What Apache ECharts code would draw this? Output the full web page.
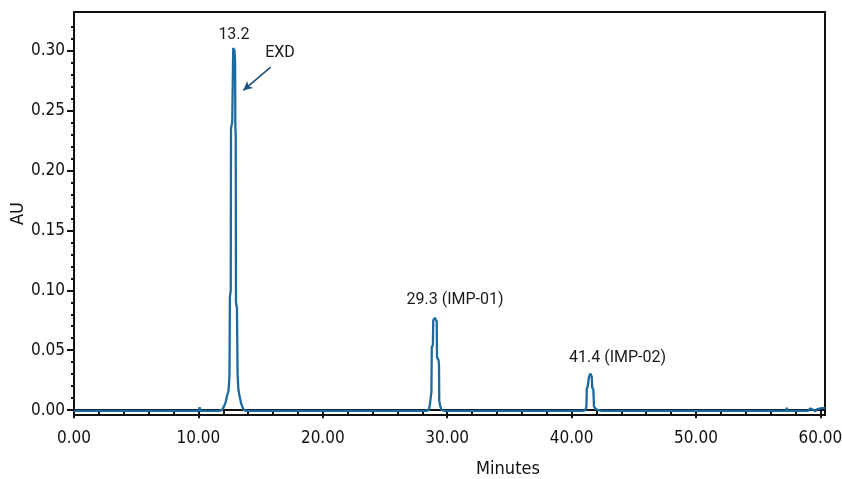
<!DOCTYPE html>
<html>
<head>
<meta charset="utf-8">
<script src="https://cdn.jsdelivr.net/npm/echarts@6/dist/echarts.min.js"></script>
<style>html,body{margin:0;padding:0;background:#fff;}#c{width:842px;height:479px;}</style>
</head>
<body>
<div id="c"></div>
<script>
// Retention time (minutes) and absorbance (AU)
const timeMin = [0, 10.05, 10.1, 10.15, 11.6, 11.9, 12.05, 12.2, 12.3, 12.42, 12.47, 12.5, 12.53, 12.6, 12.62, 12.72, 12.8, 12.9, 12.95, 12.97, 13.0, 13.02, 13.1, 13.15, 13.21, 13.3, 13.45, 13.6, 13.8,
  28.3, 28.5, 28.6, 28.67, 28.73, 28.76, 28.85, 28.88, 29.0, 29.08, 29.13, 29.16, 29.18, 29.3, 29.34, 29.36, 29.45, 29.56, 29.8,
  40.9, 41.1, 41.19, 41.22, 41.3, 41.38, 41.4, 41.5, 41.55, 41.62, 41.66, 41.75, 41.8, 41.95, 42.15, 42.4,
  57.25, 57.3, 57.35, 59.0, 59.2, 59.4, 59.6, 59.75, 59.9, 60.1, 60.37];
const absorbance = [-0.0006, -0.0006, 0.0025, -0.0006, -0.0006, 0.000, 0.003, 0.007, 0.012, 0.016, 0.024, 0.03, 0.094, 0.10, 0.235, 0.24, 0.302, 0.300, 0.29, 0.236, 0.23, 0.09, 0.085, 0.03, 0.018, 0.012, 0.005, 0.001, -0.0006,
  -0.0006, 0.000, 0.004, 0.010, 0.015, 0.052, 0.055, 0.075, 0.077, 0.078, 0.076, 0.074, 0.044, 0.042, 0.038, 0.008, 0.003, 0.000, -0.0006,
  -0.0006, 0.000, 0.003, 0.018, 0.020, 0.021, 0.028, 0.0305, 0.030, 0.028, 0.019, 0.017, 0.003, 0.001, 0.000, -0.0006,
  -0.0006, 0.002, -0.0006, -0.0006, 0.0015, 0.0003, -0.0008, 0.001, 0.0003, 0.0018, 0.0018];

const xMajorTicks = [0, 10, 20, 30, 40, 50, 60];
const xMinorTicks = [2, 4, 6, 8, 12, 14, 16, 18, 22, 24, 26, 28, 32, 34, 36, 38, 42, 44, 46, 48, 52, 54, 56, 58];
const yMajorTicks = [0, 0.05, 0.10, 0.15, 0.20, 0.25, 0.30];
const yMinorTicks = [0.01, 0.02, 0.03, 0.04, 0.06, 0.07, 0.08, 0.09, 0.11, 0.12, 0.13, 0.14, 0.16, 0.17, 0.18, 0.19, 0.21, 0.22, 0.23, 0.24, 0.26, 0.27, 0.28, 0.29, 0.31, 0.32];

const peakLabels = ['13.2', 'EXD', '29.3 (IMP-01)', '41.4 (IMP-02)'];

const series = timeMin.map((t, i) => [t, absorbance[i]]);

const chart = echarts.init(document.getElementById('c'), null, {renderer: 'canvas'});
const tickFont = "'Liberation Sans Narrow', 'DejaVu Sans Condensed', 'Liberation Sans', Arial, sans-serif";
const AX_MIN_Y = -0.004, AX_MAX_Y = 0.332, AX_MIN_X = 0, AX_MAX_X = 60.37;

chart.setOption({
  animation: false,
  backgroundColor: '#ffffff',
  grid: {left: 74, right: 17, top: 12, bottom: 64, containLabel: false, outerBoundsMode: 'none',
    show: true, borderColor: '#111', borderWidth: 2, backgroundColor: 'transparent'},
  xAxis: [{
    type: 'value', min: AX_MIN_X, max: AX_MAX_X, position: 'bottom',
    name: 'Minutes', nameLocation: 'middle', nameGap: 45,
    nameTextStyle: {fontFamily: tickFont, fontSize: 18, color: '#111', padding: [0, 0, 0, 117]},
    axisLine: {show: true, lineStyle: {color: '#111', width: 2}},
    axisTick: {show: true, customValues: xMajorTicks, length: 8, inside: false, lineStyle: {color: '#111', width: 2}},
    axisLabel: {customValues: xMajorTicks, formatter: v => v.toFixed(2), fontFamily: tickFont, fontSize: 17, color: '#111', margin: 15},
    splitLine: {show: false}
  }, {
    type: 'value', min: AX_MIN_X, max: AX_MAX_X, position: 'bottom', offset: 0,
    axisLine: {show: false},
    axisTick: {show: true, customValues: xMinorTicks, length: 4, inside: false, lineStyle: {color: '#111', width: 2}},
    axisLabel: {show: false},
    splitLine: {show: false}
  }],
  yAxis: [{
    type: 'value', min: AX_MIN_Y, max: AX_MAX_Y, position: 'left',
    name: 'AU', nameLocation: 'middle', nameGap: 47, nameRotate: 90, nameMoveOverlap: false,
    nameTextStyle: {fontFamily: tickFont, fontSize: 18, color: '#111'},
    axisLine: {show: true, lineStyle: {color: '#111', width: 2}},
    axisTick: {show: true, customValues: yMajorTicks, length: 7, inside: false, lineStyle: {color: '#111', width: 2}},
    axisLabel: {customValues: yMajorTicks, formatter: v => v.toFixed(2), fontFamily: tickFont, fontSize: 17, color: '#111', margin: 9},
    splitLine: {show: false}
  }, {
    type: 'value', min: AX_MIN_Y, max: AX_MAX_Y, position: 'left', offset: 0,
    axisLine: {show: false},
    axisTick: {show: true, customValues: yMinorTicks, length: 3, inside: false, lineStyle: {color: '#111', width: 2}},
    axisLabel: {show: false},
    splitLine: {show: false}
  }],
  series: [{
    type: 'line',
    data: series,
    xAxisIndex: 0, yAxisIndex: 0,
    showSymbol: false,
    symbol: 'none',
    lineStyle: {color: '#1b6aa0', width: 2.3},
    itemStyle: {color: '#1b6aa0'},
    markPoint: {
      silent: true,
      symbol: 'circle', symbolSize: 0,
      itemStyle: {color: 'transparent'},
      label: {show: true, position: 'inside', fontFamily: 'Roboto', fontSize: 16, color: '#1a1a1a', formatter: p => p.name},
      data: [
        {name: peakLabels[0], coord: [12.86, 0.313]},
        {name: peakLabels[1], coord: [16.56, 0.2975]},
        {name: peakLabels[2], coord: [30.63, 0.0917]},
        {name: peakLabels[3], coord: [43.69, 0.0433]}
      ]
    },
    markLine: {
      silent: true,
      symbol: ['none', 'arrow'], symbolSize: [7, 9],
      lineStyle: {color: '#1d4f78', width: 1.6, type: 'solid'},
      label: {show: false},
      data: [[{coord: [15.81, 0.286]}, {coord: [13.61, 0.2667]}]]
    }
  }]
});
</script>
</body>
</html>
